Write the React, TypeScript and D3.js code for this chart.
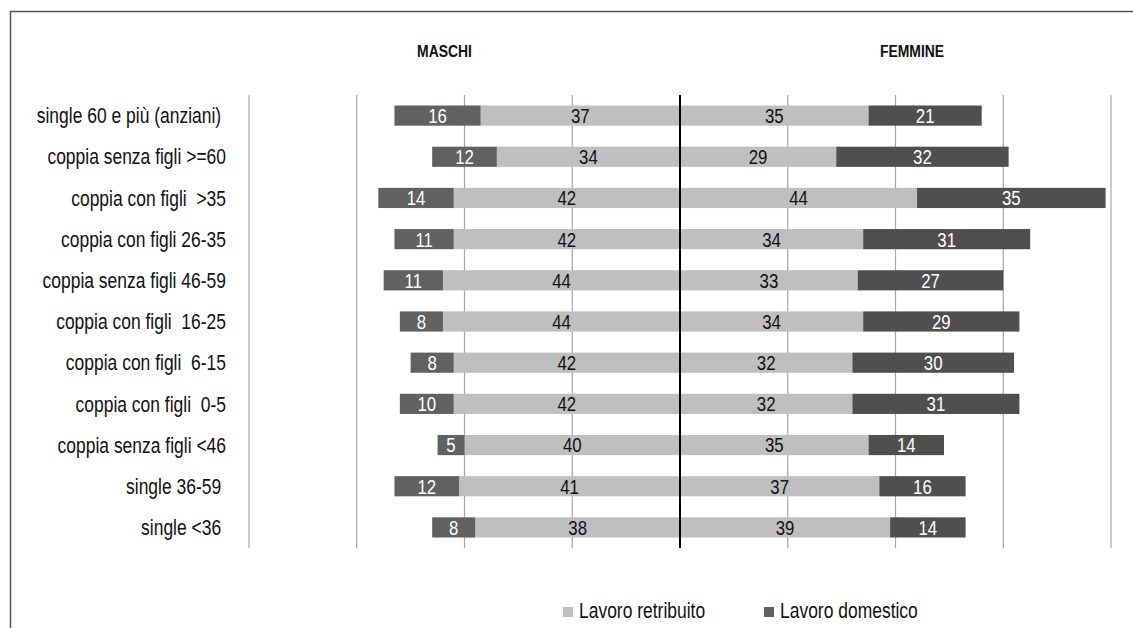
import React from "react";
import * as d3 from "d3";

const categories = [
  "single 60 e più (anziani) ",
  "coppia senza figli >=60",
  "coppia con figli  >35",
  "coppia con figli 26-35",
  "coppia senza figli 46-59",
  "coppia con figli  16-25",
  "coppia con figli  6-15",
  "coppia con figli  0-5",
  "coppia senza figli <46",
  "single 36-59 ",
  "single <36 ",
];
const maleRetribuito = [37, 34, 42, 42, 44, 44, 42, 42, 40, 41, 38];
const maleDomestico = [16, 12, 14, 11, 11, 8, 8, 10, 5, 12, 8];
const femaleRetribuito = [35, 29, 44, 34, 33, 34, 32, 32, 35, 37, 39];
const femaleDomestico = [21, 32, 35, 31, 27, 29, 30, 31, 14, 16, 14];
const gridTicks = [20, 40, 60, 80];
const legendLabels = ["Lavoro retribuito", "Lavoro domestico"];

const W = 1133;
const H = 628;
const CX = 680;
const FONT = "'Liberation Sans', Arial, sans-serif";
const SX = 0.82;
const LIGHT = "#bfbfbf";
const DARK_M = "#616161";
const DARK_F = "#4f4f4f";

function NText(props: {
  x: number;
  y: number;
  anchor?: "start" | "middle" | "end";
  size: number;
  fill?: string;
  bold?: boolean;
  dy?: string;
  children: React.ReactNode;
}) {
  const { x, y, anchor = "start", size, fill = "#111", bold, dy, children } = props;
  return (
    <text
      transform={`translate(${x},${y}) scale(${SX},1)`}
      textAnchor={anchor}
      fontSize={size}
      fill={fill}
      fontWeight={bold ? "bold" : "normal"}
      dy={dy}
      style={{ whiteSpace: "pre" }}
    >
      {children}
    </text>
  );
}

export default function App() {
  const xR = d3.scaleLinear().domain([0, 80]).range([CX, 1111]);
  const xL = d3.scaleLinear().domain([0, 80]).range([CX, 249]);
  const y = d3
    .scaleBand<string>()
    .domain(categories)
    .range([95, 548])
    .paddingInner(0.51)
    .paddingOuter(0.255);
  const bh = y.bandwidth();

  return (
    <svg
      width={W}
      height={H}
      style={{ position: "absolute", left: 0, top: 0, background: "#fff" }}
      fontFamily={FONT}
    >
      <rect x={10.5} y={11.5} width={W + 20} height={H + 20} fill="none" stroke="#555" strokeWidth={1.5} />
      {gridTicks.map((t) => (
        <g key={t}>
          <line x1={xL(t)} x2={xL(t)} y1={95} y2={548} stroke="#a6a6a6" strokeWidth={1.2} />
          <line x1={xR(t)} x2={xR(t)} y1={95} y2={548} stroke="#a6a6a6" strokeWidth={1.2} />
        </g>
      ))}
      <NText x={444.5} y={57} anchor="middle" size={17} bold>MASCHI</NText>
      <NText x={912} y={57} anchor="middle" size={17} bold>FEMMINE</NText>
      {categories.map((c, i) => {
        const yy = y(c)!;
        const cy = yy + bh / 2;
        const mr = maleRetribuito[i];
        const md = maleDomestico[i];
        const fr = femaleRetribuito[i];
        const fd = femaleDomestico[i];
        return (
          <g key={c}>
            <NText x={226} y={cy} dy="0.36em" anchor="end" size={21.3}>{c}</NText>
            <rect x={xL(mr)} y={yy} width={xL(0) - xL(mr)} height={bh} fill={LIGHT} />
            <rect x={xL(mr + md)} y={yy} width={xL(mr) - xL(mr + md)} height={bh} fill={DARK_M} />
            <rect x={xR(0)} y={yy} width={xR(fr) - xR(0)} height={bh} fill={LIGHT} />
            <rect x={xR(fr)} y={yy} width={xR(fr + fd) - xR(fr)} height={bh} fill={DARK_F} />
            <NText x={(xL(0) + xL(mr)) / 2} y={cy} dy="0.36em" anchor="middle" size={20.5}>{mr}</NText>
            <NText x={(xL(mr) + xL(mr + md)) / 2} y={cy} dy="0.36em" anchor="middle" size={20.5} fill="#fff">{md}</NText>
            <NText x={(xR(0) + xR(fr)) / 2} y={cy} dy="0.36em" anchor="middle" size={20.5}>{fr}</NText>
            <NText x={(xR(fr) + xR(fr + fd)) / 2} y={cy} dy="0.36em" anchor="middle" size={20.5} fill="#fff">{fd}</NText>
          </g>
        );
      })}
      <line x1={CX} x2={CX} y1={95} y2={548} stroke="#000" strokeWidth={2} />
      <rect x={563} y={607} width={10} height={10} fill={LIGHT} />
      <NText x={579} y={618} size={21.3}>{legendLabels[0]}</NText>
      <rect x={764} y={607} width={10} height={10} fill={DARK_M} />
      <NText x={780} y={618} size={21.3}>{legendLabels[1]}</NText>
    </svg>
  );
}
